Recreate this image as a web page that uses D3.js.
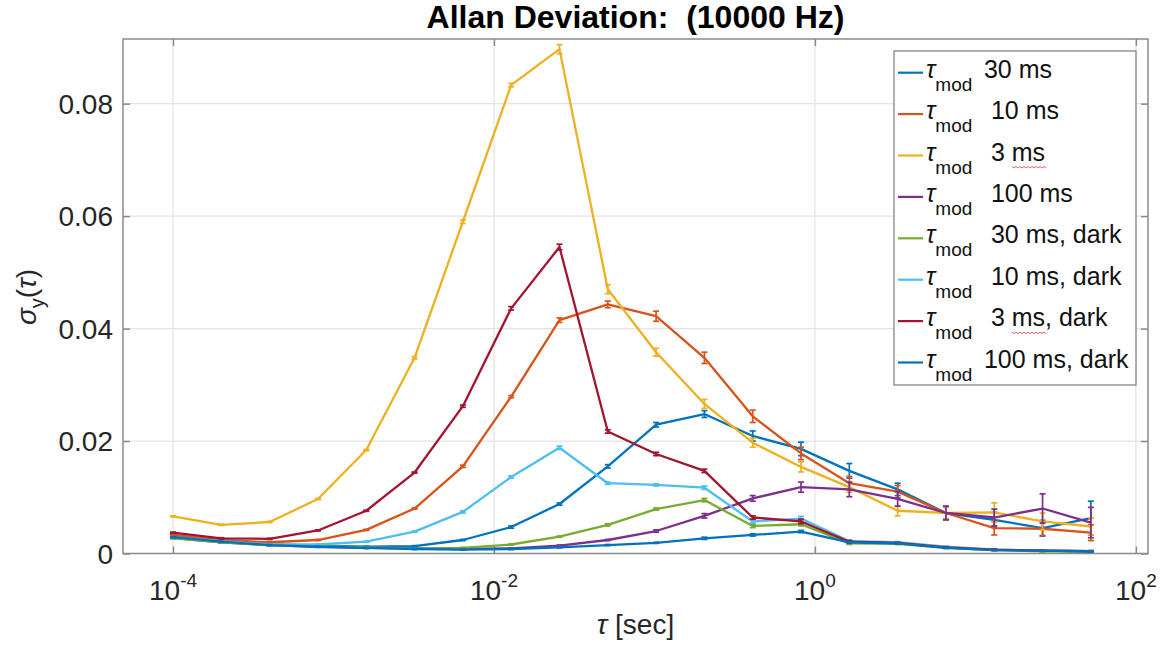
<!DOCTYPE html>
<html>
<head>
<meta charset="utf-8">
<script src="https://cdn.jsdelivr.net/npm/d3@7"></script>
<style>
  body { margin: 0; background: #fff; }
  svg { display: block; font-family: "Liberation Sans", Arial, Helvetica, sans-serif; }
</style>
</head>
<body>
<svg id="chart" width="1171" height="646"></svg>
<script>
// Averaging times (s)
const tauValues = [1e-4, 2e-4, 4e-4, 8e-4, 1.6e-3, 3.2e-3, 6.4e-3, 0.0128, 0.0256, 0.0512,
                   0.1024, 0.2048, 0.4096, 0.8192, 1.6384, 3.2768, 6.5536, 13.1072, 26.2144, 52.4288];

// Axis ticks and limits
const xTicks = [1e-4, 1e-2, 1, 100];
const xTickExponents = ["-4", "-2", "0", "2"];
const yTicks = [0, 0.02, 0.04, 0.06, 0.08];
const yTickLabels = ["0", "0.02", "0.04", "0.06", "0.08"];
const xLimits = [4.88e-5, 119];
const yLimits = [0, 0.0915];

// Legend text and colours
const seriesLabels = ["30 ms", " 10 ms", " 3 ms", " 100 ms", " 30 ms, dark", " 10 ms, dark", " 3 ms, dark", "100 ms, dark"];
const seriesColors = ["#0072BD", "#D95319", "#EDB120", "#7E2F8E", "#77AC30", "#4DBEEE", "#A2142F", "#0072BD"];

// Allan deviation per modulation time
const adev30      = [0.0030, 0.0021, 0.0016, 0.0014, 0.0012, 0.0013, 0.0024, 0.0047, 0.0088, 0.0155, 0.0229, 0.0248, 0.0209, 0.0186, 0.0147, 0.0114, 0.0072, 0.0060, 0.0045, 0.0063];
const adev10      = [0.0033, 0.0024, 0.0020, 0.0024, 0.0042, 0.0080, 0.0155, 0.0279, 0.0415, 0.0443, 0.0422, 0.0348, 0.0244, 0.0178, 0.0125, 0.0110, 0.0072, 0.0045, 0.0044, 0.0037];
const adev3       = [0.0066, 0.0051, 0.0056, 0.0097, 0.0184, 0.0348, 0.0590, 0.0833, 0.0897, 0.0470, 0.0358, 0.0266, 0.0197, 0.0154, 0.0118, 0.0076, 0.0072, 0.0073, 0.0057, 0.0048];
const adev100     = [0.0028, 0.0020, 0.0015, 0.0012, 0.0010, 0.0009, 0.0008, 0.0009, 0.0014, 0.0024, 0.0040, 0.0067, 0.0098, 0.0118, 0.0114, 0.0097, 0.0072, 0.0064, 0.0080, 0.0055];
const adev30dark  = [0.0027, 0.0020, 0.0015, 0.0013, 0.0011, 0.0009, 0.0010, 0.0016, 0.0030, 0.0051, 0.0079, 0.0095, 0.0049, 0.0052, 0.0018, 0.0017, 0.0010, 0.0006, 0.0004, 0.0003];
const adev10dark  = [0.0029, 0.0022, 0.0016, 0.0016, 0.0021, 0.0039, 0.0074, 0.0136, 0.0188, 0.0125, 0.0122, 0.0117, 0.0057, 0.0062, 0.0022, 0.0020, 0.0012, 0.0007, 0.0005, 0.0004];
const adev3dark   = [0.0037, 0.0027, 0.0026, 0.0041, 0.0076, 0.0144, 0.0262, 0.0436, 0.0545, 0.0217, 0.0177, 0.0147, 0.0064, 0.0057, 0.0021, 0.0019, 0.0011, 0.0007, 0.0005, 0.0004];
const adev100dark = [0.0029, 0.0021, 0.0015, 0.0012, 0.0010, 0.0008, 0.0007, 0.0008, 0.0011, 0.0015, 0.0019, 0.0027, 0.0033, 0.0039, 0.0020, 0.0018, 0.0010, 0.0006, 0.0005, 0.0004];

// Error bar half-lengths
const err30      = [0.0001, 0.0001, 0.0001, 0.0001, 0.0001, 0.0001, 0.0001, 0.0002, 0.0002, 0.0003, 0.0004, 0.0006, 0.0009, 0.0012, 0.0013, 0.0011, 0.0012, 0.0013, 0.0014, 0.0030];
const err10      = [0.0001, 0.0001, 0.0001, 0.0001, 0.0001, 0.0001, 0.0002, 0.0002, 0.0004, 0.0006, 0.0009, 0.0010, 0.0011, 0.0011, 0.0012, 0.0011, 0.0011, 0.0012, 0.0012, 0.0014];
const err3       = [0.0001, 0.0001, 0.0001, 0.0001, 0.0001, 0.0002, 0.0003, 0.0003, 0.0008, 0.0008, 0.0007, 0.0008, 0.0008, 0.0009, 0.0009, 0.0009, 0.0010, 0.0017, 0.0015, 0.0015];
const err100     = [0.0001, 0.0001, 0.0001, 0.0001, 0.0001, 0.0001, 0.0001, 0.0001, 0.0001, 0.0001, 0.0002, 0.0004, 0.0005, 0.0009, 0.0013, 0.0013, 0.0012, 0.0015, 0.0026, 0.0027];
const err30dark  = [0.0001, 0.0001, 0.0001, 0.0001, 0.0001, 0.0001, 0.0001, 0.0001, 0.0001, 0.0002, 0.0002, 0.0003, 0.0003, 0.0003, 0.0002, 0.0001, 0.0001, 0.0001, 0.0001, 0.0001];
const err10dark  = [0.0001, 0.0001, 0.0001, 0.0001, 0.0001, 0.0001, 0.0002, 0.0002, 0.0003, 0.0002, 0.0002, 0.0003, 0.0003, 0.0004, 0.0002, 0.0001, 0.0001, 0.0001, 0.0001, 0.0001];
const err3dark   = [0.0001, 0.0001, 0.0001, 0.0001, 0.0001, 0.0001, 0.0002, 0.0003, 0.0005, 0.0003, 0.0003, 0.0003, 0.0003, 0.0004, 0.0002, 0.0001, 0.0001, 0.0001, 0.0001, 0.0001];
const err100dark = [0.0001, 0.0001, 0.0001, 0.0001, 0.0001, 0.0001, 0.0001, 0.0001, 0.0001, 0.0001, 0.0001, 0.0002, 0.0002, 0.0002, 0.0001, 0.0001, 0.0001, 0.0001, 0.0001, 0.0001];

const seriesValues = [adev30, adev10, adev3, adev100, adev30dark, adev10dark, adev3dark, adev100dark];
const seriesErrors = [err30, err10, err3, err100, err30dark, err10dark, err3dark, err100dark];

const series = seriesValues.map((vals, i) => ({
  label: seriesLabels[i],
  color: seriesColors[i],
  points: vals.map((v, j) => ({ tau: tauValues[j], v, e: seriesErrors[i][j] }))
}));

// Layout
const box = { left: 123, right: 1148, top: 39, bottom: 553.5 };
const W = box.right - box.left, H = box.bottom - box.top;
const axisColor = "#8a8a8a";
const textColor = "#262626";

const svg = d3.select("#chart");
svg.append("rect").attr("width", 1171).attr("height", 646).attr("fill", "#fff");

const x = d3.scaleLog().domain(xLimits).range([box.left, box.right]);
const y = d3.scaleLinear().domain(yLimits).range([box.bottom, box.top]);

// Grid
const grid = svg.append("g");
grid.selectAll("line.gx").data(xTicks).join("line")
  .attr("x1", d => x(d)).attr("x2", d => x(d))
  .attr("y1", box.top).attr("y2", box.bottom)
  .attr("stroke", "#e3e3e3").attr("stroke-width", 1.2);
grid.selectAll("line.gy").data(yTicks.slice(1)).join("line")
  .attr("x1", box.left).attr("x2", box.right)
  .attr("y1", d => y(d)).attr("y2", d => y(d))
  .attr("stroke", "#e3e3e3").attr("stroke-width", 1.2);

// Axes with inward ticks on all four sides
const tickLen = 7;
const gxb = svg.append("g").attr("transform", `translate(0,${box.bottom})`)
  .call(d3.axisBottom(x).tickValues(xTicks).tickSizeInner(-tickLen).tickSizeOuter(0).tickFormat(""));
const gxt = svg.append("g").attr("transform", `translate(0,${box.top})`)
  .call(d3.axisTop(x).tickValues(xTicks).tickSizeInner(-tickLen).tickSizeOuter(0).tickFormat(""));
const gyl = svg.append("g").attr("transform", `translate(${box.left},0)`)
  .call(d3.axisLeft(y).tickValues(yTicks).tickSizeInner(-tickLen).tickSizeOuter(0).tickFormat(""));
const gyr = svg.append("g").attr("transform", `translate(${box.right},0)`)
  .call(d3.axisRight(y).tickValues(yTicks).tickSizeInner(-tickLen).tickSizeOuter(0).tickFormat(""));
[gxb, gxt, gyl, gyr].forEach(g => {
  g.select(".domain").remove();
  g.selectAll(".tick line").attr("stroke", axisColor).attr("stroke-width", 1.5);
});

svg.append("rect")
  .attr("x", box.left).attr("y", box.top).attr("width", W).attr("height", H)
  .attr("fill", "none").attr("stroke", axisColor).attr("stroke-width", 1.5);

// X tick labels (powers of ten)
const xl = svg.append("g").attr("fill", textColor).attr("font-size", 28);
xTicks.forEach((t, i) => {
  const txt = xl.append("text").attr("x", x(t)).attr("y", 600).attr("text-anchor", "middle");
  txt.append("tspan").text("10");
  txt.append("tspan").attr("font-size", 19).attr("dy", -13).text(xTickExponents[i]);
});

// Y tick labels
svg.append("g").attr("fill", textColor).attr("font-size", 28)
  .selectAll("text").data(yTicks).join("text")
  .attr("x", 113).attr("y", d => y(d) + 10).attr("text-anchor", "end")
  .text((d, i) => yTickLabels[i]);

// Data lines and error bars
const line = d3.line().x(d => x(d.tau)).y(d => y(d.v));
const capHalf = 3;
series.forEach(s => {
  const g = svg.append("g");
  g.append("path").datum(s.points).attr("d", line)
    .attr("fill", "none").attr("stroke", s.color).attr("stroke-width", 2.3)
    .attr("stroke-linejoin", "round");
  const eb = g.selectAll("g.eb").data(s.points).join("g")
    .attr("stroke", s.color).attr("stroke-width", 1.7);
  eb.append("line")
    .attr("x1", d => x(d.tau)).attr("x2", d => x(d.tau))
    .attr("y1", d => y(d.v - d.e)).attr("y2", d => y(d.v + d.e));
  eb.append("line")
    .attr("x1", d => x(d.tau) - capHalf).attr("x2", d => x(d.tau) + capHalf)
    .attr("y1", d => y(d.v + d.e)).attr("y2", d => y(d.v + d.e));
  eb.append("line")
    .attr("x1", d => x(d.tau) - capHalf).attr("x2", d => x(d.tau) + capHalf)
    .attr("y1", d => y(d.v - d.e)).attr("y2", d => y(d.v - d.e));
});

// Legend
const lg = svg.append("g");
lg.append("rect").attr("x", 894).attr("y", 51).attr("width", 242).attr("height", 334)
  .attr("fill", "#fff").attr("stroke", "#7a7a7a").attr("stroke-width", 1.2);
series.forEach((s, i) => {
  const cy = 72.7 + i * 41.4;
  lg.append("line").attr("x1", 898).attr("x2", 923).attr("y1", cy).attr("y2", cy)
    .attr("stroke", s.color).attr("stroke-width", 2.2);
  const t = lg.append("text").attr("x", 926).attr("y", cy + 5)
    .attr("font-size", 25).attr("fill", "#111").attr("xml:space", "preserve")
    .style("white-space", "pre");
  t.append("tspan").attr("font-style", "italic").text("τ");
  t.append("tspan").attr("font-size", 19).attr("dy", 13).text("mod");
  t.append("tspan").attr("x", 977).attr("dy", -13).text(" " + s.label);
});

// spell-check squiggles under "ms" in the 3 ms entries
[2, 6].forEach(i => {
  const cy = 72.7 + i * 41.4 + 11;
  const x0 = 1012, x1 = 1047;
  let d = `M${x0},${cy}`;
  for (let xx = x0 + 2, k = 0; xx <= x1; xx += 2, k++) d += `L${xx},${cy + (k % 2 === 0 ? 1.5 : 0)}`;
  lg.append("path").attr("d", d).attr("fill", "none").attr("stroke", "#e05050").attr("stroke-width", 0.9);
});

// Title
svg.append("text").attr("x", (box.left + box.right) / 2).attr("y", 28)
  .attr("text-anchor", "middle").attr("font-size", 32).attr("font-weight", "bold")
  .attr("fill", "#000").style("white-space", "pre")
  .text("Allan Deviation:  (10000 Hz)");

// Axis labels
const xlab = svg.append("text").attr("x", (box.left + box.right) / 2).attr("y", 634)
  .attr("text-anchor", "middle").attr("font-size", 28).attr("fill", textColor);
xlab.append("tspan").attr("font-style", "italic").text("τ");
xlab.append("tspan").text(" [sec]");

const ylab = svg.append("text").attr("transform", "translate(36,297) rotate(-90)")
  .attr("text-anchor", "middle").attr("font-size", 28).attr("fill", textColor);
ylab.append("tspan").attr("font-style", "italic").text("σ");
ylab.append("tspan").attr("font-size", 20).attr("dy", 8).text("y");
ylab.append("tspan").attr("dy", -8).text("(");
ylab.append("tspan").attr("font-style", "italic").text("τ");
ylab.append("tspan").text(")");
</script>
</body>
</html>
